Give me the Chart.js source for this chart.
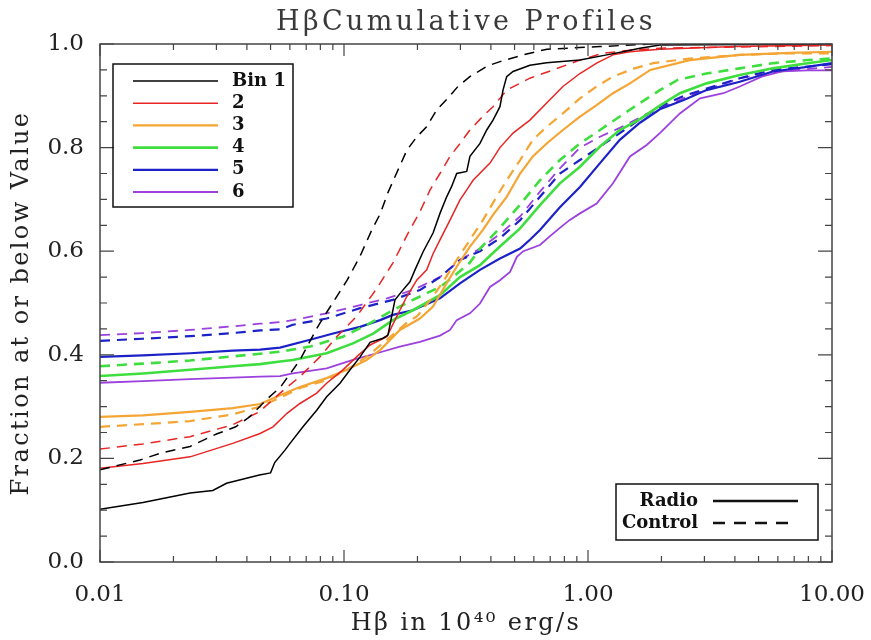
<!DOCTYPE html>
<html>
<head>
<meta charset="utf-8">
<script src="https://cdn.jsdelivr.net/npm/chart.js@4/dist/chart.umd.min.js"></script>
<style>
  html, body { margin: 0; padding: 0; background: #fff; }
</style>
</head>
<body>
<canvas id="perfiles" width="871" height="640"></canvas>
<script>
// valores (x en 10^40 erg/s, y = fraccion acumulada)
var bin1RadioX = [0.01, 0.015, 0.0234, 0.029, 0.033, 0.045, 0.050, 0.052, 0.0573, 0.0601, 0.0679, 0.0773, 0.0849, 0.0963, 0.1059, 0.1164, 0.1279, 0.1445, 0.1514, 0.1568, 0.1618, 0.1722, 0.1863, 0.1954, 0.211, 0.2317, 0.2474, 0.2635, 0.2762, 0.2897, 0.3184, 0.3282, 0.3608, 0.3845, 0.4081, 0.4356, 0.4484, 0.4642, 0.493, 0.578, 0.677, 0.927, 1.194, 1.39, 1.633, 1.97, 10];
var bin1RadioY = [0.102, 0.115, 0.133, 0.138, 0.152, 0.168, 0.172, 0.192, 0.216, 0.229, 0.261, 0.293, 0.319, 0.345, 0.371, 0.396, 0.424, 0.432, 0.438, 0.474, 0.506, 0.522, 0.541, 0.564, 0.599, 0.635, 0.673, 0.705, 0.725, 0.750, 0.754, 0.783, 0.808, 0.834, 0.853, 0.879, 0.911, 0.937, 0.947, 0.959, 0.964, 0.969, 0.979, 0.985, 0.992, 0.998, 1.0];
var bin1ControlX = [0.01, 0.0146, 0.0177, 0.0234, 0.030, 0.036, 0.041, 0.048, 0.055, 0.066, 0.078, 0.086, 0.103, 0.116, 0.130, 0.141, 0.151, 0.164, 0.181, 0.199, 0.218, 0.240, 0.267, 0.293, 0.328, 0.389, 0.436, 0.542, 0.679, 1.12, 1.8, 10];
var bin1ControlY = [0.178, 0.197, 0.21, 0.223, 0.247, 0.261, 0.28, 0.313, 0.338, 0.39, 0.454, 0.486, 0.544, 0.589, 0.641, 0.673, 0.712, 0.750, 0.795, 0.821, 0.840, 0.873, 0.896, 0.918, 0.937, 0.958, 0.966, 0.979, 0.99, 0.995, 1.0, 1.0];

var bin2RadioX = [0.01, 0.015, 0.0234, 0.035, 0.0453, 0.0512, 0.0584, 0.066, 0.0773, 0.0849, 0.099, 0.1126, 0.1279, 0.1499, 0.1568, 0.1694, 0.1807, 0.1986, 0.2183, 0.2317, 0.2474, 0.2719, 0.2988, 0.318, 0.338, 0.3966, 0.4356, 0.493, 0.578, 0.677, 0.789, 0.927, 1.085, 1.266, 1.486, 1.97, 4, 10];
var bin2RadioY = [0.181, 0.190, 0.203, 0.229, 0.248, 0.261, 0.287, 0.306, 0.326, 0.345, 0.371, 0.396, 0.419, 0.435, 0.454, 0.486, 0.512, 0.544, 0.564, 0.595, 0.622, 0.660, 0.699, 0.718, 0.737, 0.770, 0.800, 0.828, 0.853, 0.886, 0.918, 0.943, 0.963, 0.979, 0.985, 0.990, 0.995, 0.998];
var bin2ControlX = [0.01, 0.015, 0.0234, 0.035, 0.045, 0.0547, 0.066, 0.0797, 0.0933, 0.1126, 0.1362, 0.1585, 0.1831, 0.2047, 0.2251, 0.2474, 0.2719, 0.2988, 0.3282, 0.3665, 0.408, 0.4642, 0.578, 0.7195, 0.927, 1.15, 1.486, 1.97, 10];
var bin2ControlY = [0.218, 0.228, 0.242, 0.265, 0.29, 0.326, 0.358, 0.396, 0.435, 0.474, 0.528, 0.577, 0.635, 0.676, 0.718, 0.750, 0.783, 0.808, 0.834, 0.858, 0.879, 0.911, 0.934, 0.950, 0.969, 0.982, 0.988, 0.992, 0.997];

var bin3RadioX = [0.01, 0.015, 0.0234, 0.035, 0.0453, 0.0547, 0.066, 0.0849, 0.1027, 0.1237, 0.1406, 0.1694, 0.2047, 0.2317, 0.2635, 0.2897, 0.3282, 0.371, 0.408, 0.4642, 0.527, 0.594, 0.677, 0.789, 0.927, 1.085, 1.266, 1.486, 1.8, 2.61, 4.19, 6.73, 10];
var bin3RadioY = [0.280, 0.283, 0.290, 0.297, 0.305, 0.322, 0.338, 0.355, 0.371, 0.390, 0.409, 0.448, 0.470, 0.493, 0.538, 0.570, 0.609, 0.641, 0.670, 0.705, 0.750, 0.783, 0.808, 0.834, 0.860, 0.882, 0.905, 0.924, 0.950, 0.969, 0.979, 0.983, 0.985];
var bin3ControlX = [0.01, 0.015, 0.0234, 0.035, 0.0453, 0.0547, 0.066, 0.0849, 0.1027, 0.1237, 0.15, 0.18, 0.2, 0.2251, 0.25, 0.2897, 0.3282, 0.371, 0.41, 0.4642, 0.527, 0.594, 0.677, 0.789, 0.927, 1.085, 1.266, 1.55, 1.85, 2.61, 4.19, 6.73, 10];
var bin3ControlY = [0.261, 0.266, 0.272, 0.285, 0.300, 0.317, 0.336, 0.351, 0.371, 0.396, 0.429, 0.461, 0.475, 0.505, 0.535, 0.583, 0.622, 0.660, 0.695, 0.737, 0.776, 0.815, 0.840, 0.866, 0.895, 0.918, 0.937, 0.953, 0.963, 0.972, 0.979, 0.982, 0.982];

var bin4RadioX = [0.01, 0.015, 0.0234, 0.035, 0.0453, 0.0547, 0.0617, 0.0849, 0.1088, 0.1317, 0.1585, 0.1915, 0.2474, 0.2988, 0.3608, 0.4356, 0.527, 0.6356, 0.767, 0.927, 1.12, 1.35, 1.633, 1.97, 2.38, 3.06, 4.19, 5.72, 7.93, 10];
var bin4RadioY = [0.359, 0.364, 0.371, 0.378, 0.382, 0.387, 0.390, 0.403, 0.422, 0.441, 0.467, 0.486, 0.515, 0.550, 0.573, 0.609, 0.644, 0.689, 0.731, 0.763, 0.802, 0.834, 0.855, 0.881, 0.905, 0.924, 0.940, 0.953, 0.963, 0.969];
var bin4ControlX = [0.01, 0.015, 0.0234, 0.035, 0.0453, 0.0547, 0.0726, 0.099, 0.1279, 0.1585, 0.1915, 0.2474, 0.2799, 0.3282, 0.3608, 0.4356, 0.527, 0.6356, 0.767, 0.927, 1.12, 1.35, 1.633, 1.97, 2.34, 3.06, 4.19, 5.72, 7.93, 10];
var bin4ControlY = [0.378, 0.383, 0.389, 0.397, 0.402, 0.406, 0.416, 0.435, 0.461, 0.486, 0.506, 0.531, 0.550, 0.578, 0.605, 0.645, 0.690, 0.737, 0.776, 0.808, 0.834, 0.860, 0.886, 0.911, 0.931, 0.943, 0.953, 0.963, 0.969, 0.972];

var bin5RadioX = [0.01, 0.015, 0.0234, 0.035, 0.0453, 0.0547, 0.0726, 0.0903, 0.1164, 0.1406, 0.1585, 0.1915, 0.2474, 0.2988, 0.3608, 0.4356, 0.527, 0.578, 0.6356, 0.767, 0.927, 1.12, 1.35, 1.633, 1.97, 2.47, 3.06, 4.19, 5.72, 7.93, 10];
var bin5RadioY = [0.396, 0.399, 0.403, 0.408, 0.410, 0.414, 0.429, 0.441, 0.454, 0.467, 0.477, 0.486, 0.509, 0.538, 0.564, 0.586, 0.605, 0.622, 0.641, 0.685, 0.724, 0.770, 0.815, 0.848, 0.874, 0.892, 0.911, 0.927, 0.947, 0.956, 0.963];
var bin5ControlX = [0.01, 0.015, 0.0234, 0.035, 0.0453, 0.0547, 0.0617, 0.0849, 0.1164, 0.1585, 0.2047, 0.2474, 0.2988, 0.3608, 0.4356, 0.527, 0.6356, 0.767, 0.927, 1.12, 1.35, 1.633, 1.97, 2.47, 4.19, 5.72, 10];
var bin5ControlY = [0.427, 0.431, 0.436, 0.442, 0.447, 0.449, 0.458, 0.470, 0.490, 0.506, 0.525, 0.550, 0.583, 0.600, 0.625, 0.660, 0.705, 0.750, 0.776, 0.802, 0.828, 0.855, 0.879, 0.900, 0.934, 0.950, 0.961];

var bin6RadioX = [0.01, 0.015, 0.0234, 0.035, 0.0453, 0.0547, 0.0617, 0.0849, 0.1088, 0.1362, 0.1694, 0.2047, 0.2474, 0.2719, 0.2897, 0.3282, 0.3608, 0.3966, 0.4356, 0.4792, 0.511, 0.543, 0.6356, 0.695, 0.767, 0.840, 0.927, 1.085, 1.266, 1.486, 1.74, 1.97, 2.38, 2.88, 3.59, 4.19, 5.15, 6.23, 7.93, 10];
var bin6RadioY = [0.346, 0.349, 0.353, 0.356, 0.358, 0.359, 0.364, 0.374, 0.390, 0.403, 0.416, 0.425, 0.437, 0.448, 0.467, 0.480, 0.499, 0.531, 0.544, 0.560, 0.589, 0.600, 0.612, 0.628, 0.645, 0.660, 0.673, 0.692, 0.731, 0.783, 0.805, 0.828, 0.866, 0.895, 0.905, 0.918, 0.937, 0.947, 0.949, 0.949];
var bin6ControlX = [0.01, 0.015, 0.0234, 0.035, 0.0453, 0.0547, 0.0617, 0.0849, 0.1164, 0.15, 0.1915, 0.2474, 0.2988, 0.3608, 0.4356, 0.527, 0.6356, 0.767, 0.927, 1.12, 1.35, 1.74, 2.61, 4.19, 6.23, 10];
var bin6ControlY = [0.438, 0.442, 0.448, 0.455, 0.460, 0.463, 0.467, 0.480, 0.496, 0.509, 0.525, 0.550, 0.583, 0.605, 0.633, 0.667, 0.715, 0.760, 0.800, 0.821, 0.838, 0.865, 0.900, 0.934, 0.947, 0.956];

var binLabels = ['Bin 1', '2', '3', '4', '5', '6'];
var binColors = ['#000000', '#e82424', '#f4a534', '#3ede3e', '#1c22c6', '#9c40de'];
var binWidths = [1.5, 1.5, 2.2, 2.6, 2.2, 1.8];

var xTicks = [0.01, 0.1, 1, 10];
var xTickLabels = ['0.01', '0.10', '1.00', '10.00'];
var yTicks = [0, 0.2, 0.4, 0.6, 0.8, 1.0];
var yTickLabels = ['0.0', '0.2', '0.4', '0.6', '0.8', '1.0'];

var tituloTexto = 'H\u03B2Cumulative Profiles';
var xTitulo = 'H\u03B2 in 10\u2074\u2070 erg/s';
var yTitulo = 'Fraction at or below Value';

var fuente = "'DejaVu Serif', serif";
var ctx = document.getElementById('perfiles').getContext('2d');

function pares(xs, ys) {
    return xs.map((x, i) => ({ x: x, y: ys[i] }));
}

function serie(xs, ys, bin, control) {
    return {
        label: binLabels[bin] + (control ? ' control' : ' radio'),
        data: pares(xs, ys),
        borderColor: binColors[bin],
        borderWidth: binWidths[bin],
        borderDash: control ? [10, 7] : [],
        pointRadius: 0,
        tension: 0,
        fill: false,
    };
}

// marco y marcas hacia adentro, estilo IDL
const marco = {
    id: 'marco',
    afterDatasetsDraw(chart) {
        const { ctx, chartArea: a, scales: { x, y } } = chart;
        ctx.save();
        ctx.strokeStyle = '#444';
        ctx.lineWidth = 1.5;
        ctx.strokeRect(a.left, a.top, a.right - a.left, a.bottom - a.top);
        ctx.lineWidth = 1.2;
        ctx.beginPath();
        for (let d = 0.01; d < 10; d *= 10) {
            for (let k = 1; k <= 10; k++) {
                const px = x.getPixelForValue(d * k);
                const len = (k == 1 || k == 10) ? 12 : 6;
                ctx.moveTo(px, a.bottom); ctx.lineTo(px, a.bottom - len);
                ctx.moveTo(px, a.top); ctx.lineTo(px, a.top + len);
            }
        }
        for (let i = 0; i <= 20; i++) {
            const py = y.getPixelForValue(i * 0.05);
            const len = (i % 4 == 0) ? 14 : 7;
            ctx.moveTo(a.left, py); ctx.lineTo(a.left + len, py);
            ctx.moveTo(a.right, py); ctx.lineTo(a.right - len, py);
        }
        ctx.stroke();
        ctx.restore();
    }
};

// titulos con espaciado ancho como la fuente de IDL
const titulos = {
    id: 'titulos',
    afterDraw(chart) {
        const { ctx, chartArea: a } = chart;
        const cx = (a.left + a.right) / 2;
        ctx.save();
        ctx.textAlign = 'center';
        ctx.textBaseline = 'middle';
        ctx.fillStyle = '#3a3a3a';
        ctx.letterSpacing = '3.4px';
        ctx.font = '27px ' + fuente;
        ctx.fillText(tituloTexto, cx, 23);
        ctx.fillStyle = '#222';
        ctx.letterSpacing = '2.4px';
        ctx.font = '24px ' + fuente;
        ctx.fillText(xTitulo, cx, 624);
        ctx.translate(22, (a.top + a.bottom) / 2);
        ctx.rotate(-Math.PI / 2);
        ctx.fillText(yTitulo, 0, 0);
        ctx.restore();
    }
};

const leyenda = {
    id: 'leyenda',
    afterDraw(chart) {
        const { ctx, chartArea: a } = chart;
        const sets = chart.data.datasets;
        ctx.save();
        ctx.font = "bold 18px " + fuente;
        ctx.textBaseline = 'middle';
        ctx.fillStyle = '#111';

        // caja de bins
        var bx = a.left + 13, by = a.top + 20;
        ctx.strokeStyle = '#111';
        ctx.lineWidth = 1.5;
        ctx.strokeRect(bx, by, 180, 143);
        ctx.textAlign = 'left';
        binLabels.forEach((lab, i) => {
            const ds = sets[i * 2];
            const yy = by + 17 + i * 22.2;
            ctx.strokeStyle = ds.borderColor;
            ctx.lineWidth = ds.borderWidth;
            ctx.beginPath();
            ctx.moveTo(bx + 20, yy);
            ctx.lineTo(bx + 105, yy);
            ctx.stroke();
            ctx.fillText(lab, bx + 119, yy);
        });

        // caja radio / control
        var cx = a.right - 216, cy = a.bottom - 78;
        ctx.strokeStyle = '#111';
        ctx.lineWidth = 1.5;
        ctx.strokeRect(cx, cy, 202, 56);
        ctx.textAlign = 'right';
        ctx.fillText('Radio', cx + 82, cy + 17);
        ctx.fillText('Control', cx + 82, cy + 39);
        ctx.lineWidth = 2.5;
        ctx.beginPath();
        ctx.moveTo(cx + 97, cy + 17);
        ctx.lineTo(cx + 182, cy + 17);
        ctx.stroke();
        ctx.setLineDash([12, 9]);
        ctx.beginPath();
        ctx.moveTo(cx + 97, cy + 39);
        ctx.lineTo(cx + 172, cy + 39);
        ctx.stroke();
        ctx.restore();
    }
};

var datos = [
    serie(bin1RadioX, bin1RadioY, 0, false), serie(bin1ControlX, bin1ControlY, 0, true),
    serie(bin2RadioX, bin2RadioY, 1, false), serie(bin2ControlX, bin2ControlY, 1, true),
    serie(bin3RadioX, bin3RadioY, 2, false), serie(bin3ControlX, bin3ControlY, 2, true),
    serie(bin4RadioX, bin4RadioY, 3, false), serie(bin4ControlX, bin4ControlY, 3, true),
    serie(bin5RadioX, bin5RadioY, 4, false), serie(bin5ControlX, bin5ControlY, 4, true),
    serie(bin6RadioX, bin6RadioY, 5, false), serie(bin6ControlX, bin6ControlY, 5, true),
];

var chart_perfiles = new Chart(ctx, {
    type: 'line',
    data: { datasets: datos },
    plugins: [marco, titulos, leyenda],
    options: {
        responsive: false,
        animation: false,
        layout: { padding: { left: 0, right: 39, top: 44, bottom: 0 } },
        plugins: {
            legend: { display: false },
            tooltip: { enabled: false },
            title: { display: false },
        },
        scales: {
            x: {
                type: 'logarithmic',
                min: 0.01,
                max: 10,
                grid: { display: false },
                border: { display: false },
                afterBuildTicks: (s) => { s.ticks = xTicks.map(v => ({ value: v })); },
                afterFit: (s) => { s.height = 78; s.paddingLeft = 0; s.paddingRight = 0; },
                ticks: {
                    autoSkip: false,
                    maxRotation: 0,
                    padding: 11,
                    color: '#222',
                    font: { family: fuente, size: 23 },
                    callback: (v, i) => xTickLabels[i],
                },
            },
            y: {
                min: 0,
                max: 1,
                grid: { display: false },
                border: { display: false },
                afterBuildTicks: (s) => { s.ticks = yTicks.map(v => ({ value: v })); },
                afterFit: (s) => { s.width = 100; s.paddingTop = 0; s.paddingBottom = 0; },
                ticks: {
                    padding: 8,
                    color: '#222',
                    font: { family: fuente, size: 23 },
                    callback: (v, i) => yTickLabels[i],
                },
            },
        },
    },
});
</script>
</body>
</html>
